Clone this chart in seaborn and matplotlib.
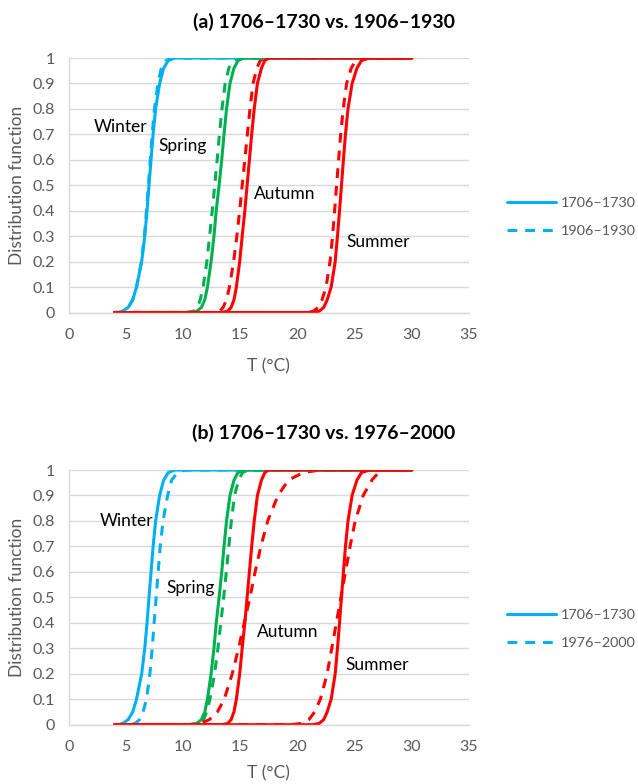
import matplotlib
matplotlib.use("Agg")
import matplotlib.pyplot as plt
from matplotlib.lines import Line2D
import pandas as pd
import seaborn as sns

# Niveles de la función de distribución y temperaturas (°C)
levels = [0, 0.005, 0.02, 0.05, 0.1, 0.2, 0.3, 0.4, 0.5, 0.6, 0.7, 0.8, 0.9, 0.96, 0.99, 1]
t_range = [4, 30]

winter_1706 = [4.4, 4.7, 5.2, 5.6, 5.93, 6.38, 6.65, 6.85, 7.02, 7.2, 7.38, 7.6, 7.95, 8.3, 8.7, 9.3]
winter_1906 = [4.4, 4.7, 5.2, 5.6, 5.93, 6.36, 6.62, 6.8, 6.97, 7.13, 7.3, 7.5, 7.8, 8.1, 8.5, 9.0]
winter_1976 = [5.3, 5.8, 6.2, 6.5, 6.8, 7.1, 7.3, 7.47, 7.65, 7.82, 8.0, 8.25, 8.65, 9.0, 9.5, 10.2]

spring_1706 = [10.5, 11.2, 11.6, 11.9, 12.13, 12.45, 12.7, 12.9, 13.15, 13.38, 13.58, 13.8, 14.1, 14.45, 14.8, 15.3]
spring_1906 = [10.3, 10.9, 11.25, 11.5, 11.75, 12.08, 12.32, 12.55, 12.77, 12.98, 13.18, 13.4, 13.68, 14.0, 14.35, 14.85]
spring_1976 = [10.8, 11.4, 11.8, 12.05, 12.35, 12.75, 13.05, 13.3, 13.55, 13.78, 14.0, 14.22, 14.5, 14.85, 15.2, 15.7]

summer_1706 = [21.3, 21.9, 22.3, 22.6, 22.95, 23.3, 23.5, 23.68, 23.85, 24.02, 24.2, 24.42, 24.78, 25.2, 25.6, 26.3]
summer_1906 = [20.9, 21.4, 21.8, 22.15, 22.5, 22.85, 23.07, 23.25, 23.42, 23.6, 23.78, 24.0, 24.3, 24.7, 25.1, 25.8]
summer_1976 = [19.5, 20.3, 21.0, 21.5, 22.0, 22.6, 23.0, 23.4, 23.8, 24.2, 24.6, 25.05, 25.75, 26.5, 27.1, 27.7]

autumn_1706 = [13.4, 13.9, 14.2, 14.45, 14.66, 14.95, 15.17, 15.4, 15.6, 15.8, 16.0, 16.22, 16.5, 16.85, 17.15, 17.5]
autumn_1906 = [12.8, 13.2, 13.5, 13.8, 14.05, 14.42, 14.7, 14.95, 15.17, 15.4, 15.62, 15.85, 16.12, 16.45, 16.75, 17.2]
autumn_1976 = [10.5, 11.5, 12.3, 13.0, 13.6, 14.3, 14.85, 15.35, 15.85, 16.3, 16.8, 17.4, 18.3, 19.2, 20.5, 22.0]

seasons = ["Winter", "Spring", "Summer", "Autumn"]
colors = {"Winter": "#00B0F0", "Spring": "#00B050", "Summer": "#FF0000", "Autumn": "#FF0000"}
base = {"Winter": winter_1706, "Spring": spring_1706, "Summer": summer_1706, "Autumn": autumn_1706}
comp_a = {"Winter": winter_1906, "Spring": spring_1906, "Summer": summer_1906, "Autumn": autumn_1906}
comp_b = {"Winter": winter_1976, "Spring": spring_1976, "Summer": summer_1976, "Autumn": autumn_1976}

# posiciones de las etiquetas (x, y, alineación)
labels_a = {"Winter": (6.9, 0.73, "right"), "Spring": (7.85, 0.655, "left"),
            "Autumn": (16.2, 0.465, "left"), "Summer": (24.3, 0.278, "left")}
labels_b = {"Winter": (7.4, 0.80, "right"), "Spring": (8.5, 0.537, "left"),
            "Autumn": (16.5, 0.362, "left"), "Summer": (24.2, 0.234, "left")}

sns.set_style("white")
plt.rcParams["font.family"] = ["Lato", "DejaVu Sans"]

GRAY = "#595959"
GRID = "#D9D9D9"
LW = 2.2
DASH = (3.2, 2.6)


def curve(q):
    xs = [t_range[0]] + list(q) + [t_range[1]]
    ys = [0] + list(levels) + [1]
    return pd.DataFrame({"T": xs, "F": ys})


def panel(ax, comp, comp_label, labels, legend_y, xlabelpad):
    for s in seasons:
        d = curve(comp[s])
        sns.lineplot(data=d, x="T", y="F", ax=ax, color=colors[s], lw=LW,
                     sort=False, estimator=None, legend=False)
        ax.lines[-1].set_dashes(DASH)
    for s in seasons:
        d = curve(base[s])
        sns.lineplot(data=d, x="T", y="F", ax=ax, color=colors[s], lw=LW,
                     sort=False, estimator=None, legend=False)
    for s, (x, y, ha) in labels.items():
        ax.text(x, y, s, ha=ha, va="center", fontsize=12.5, color="black")

    ax.set_xlim(0, 35)
    ax.set_ylim(0, 1)
    ax.set_xticks(range(0, 36, 5))
    ax.set_yticks([i / 10 for i in range(11)])
    ax.set_yticklabels(["0"] + [f"{i/10:.1f}" for i in range(1, 10)] + ["1"])
    ax.tick_params(length=0, labelsize=11.5, labelcolor=GRAY)
    ax.tick_params(axis="x", pad=11)
    ax.tick_params(axis="y", pad=10)
    ax.grid(axis="y", color=GRID, lw=1.0)
    ax.set_axisbelow(True)
    for side in ["top", "right"]:
        ax.spines[side].set_visible(False)
    for side in ["left", "bottom"]:
        ax.spines[side].set_color(GRID)
        ax.spines[side].set_linewidth(1.0)
    ax.set_xlabel("T (°C)", fontsize=12.5, color=GRAY, labelpad=xlabelpad)
    ax.set_ylabel("Distribution function", fontsize=12.5, color=GRAY, labelpad=5)

    handles = [Line2D([], [], color=colors["Winter"], lw=LW),
               Line2D([], [], color=colors["Winter"], lw=LW, dashes=DASH)]
    fig.legend(handles, ["1706–1730", comp_label], loc="center left",
               bbox_to_anchor=(507 / 638, legend_y), frameon=False,
               fontsize=10.4, labelcolor=GRAY, handlelength=3.4,
               handletextpad=0.35, labelspacing=1.05, borderpad=0, borderaxespad=0)


fig = plt.figure(figsize=(6.38, 7.84), dpi=100)
ax_a = fig.add_axes([68.7 / 638, 1 - 312.5 / 784, (469 - 68.7) / 638, 254.5 / 784])
ax_b = fig.add_axes([68.7 / 638, 1 - 724.7 / 784, (469 - 68.7) / 638, 254.7 / 784])

panel(ax_a, comp_a, "1906–1930", labels_a, 1 - 217 / 784, 12)
panel(ax_b, comp_b, "1976–2000", labels_b, 1 - 629 / 784, 8)

fig.text(324 / 638, 1 - 22 / 784, "(a) 1706–1730 vs. 1906–1930", ha="center", va="center",
         fontsize=14, fontweight="bold", color="black")
fig.text(324 / 638, 1 - 433 / 784, "(b) 1706–1730 vs. 1976–2000", ha="center", va="center",
         fontsize=14, fontweight="bold", color="black")

fig.savefig("out.png", dpi=100)
